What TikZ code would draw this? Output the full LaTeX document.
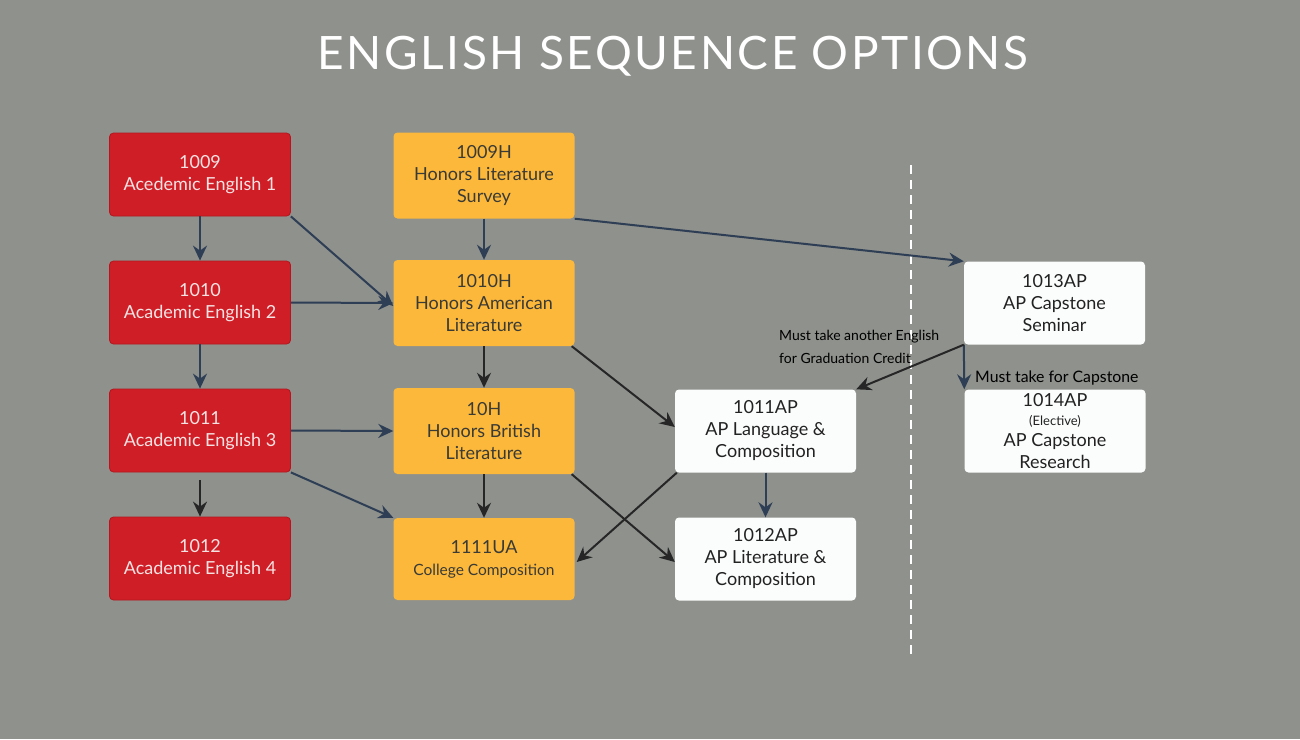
\documentclass[tikz,border=0pt]{standalone}
\usepackage{fontspec}
\setmainfont{Lato}
\newfontfamily\titlefont[LetterSpace=5.5]{Lato}
\usetikzlibrary{arrows.meta}
\definecolor{bg}{HTML}{8E918C}
\definecolor{redbox}{HTML}{D01E27}
\definecolor{redborder}{HTML}{B3161E}
\definecolor{redtext}{HTML}{F4E3E3}
\definecolor{orangebox}{HTML}{FBB83A}
\definecolor{orangetext}{HTML}{3A3A36}
\definecolor{whitebox}{HTML}{FBFCFC}
\definecolor{whitetext}{HTML}{222222}
\definecolor{slate}{HTML}{2E3E55}
\definecolor{darkarrow}{HTML}{262626}
\tikzset{
  box/.style={rounded corners=4pt, minimum width=181pt, minimum height=83pt, align=center, font=\fontsize{18}{22}\selectfont, inner sep=0pt},
  redcourse/.style={box, fill=redbox, draw=redborder, line width=0.8pt, text=redtext},
  orangecourse/.style={box, fill=orangebox, text=orangetext, minimum height=86pt},
  whitecourse/.style={box, fill=whitebox, text=whitetext},
  slatearrow/.style={draw=slate, line width=2pt, -{Stealth[length=15pt,width=14pt,inset=5pt]}},
  darkarrowstyle/.style={draw=darkarrow, line width=2pt, -{Stealth[length=15pt,width=14pt,inset=5pt]}},
  note/.style={font=\fontsize{14}{23}\selectfont, text=black, align=left, inner sep=0pt}
}
\begin{document}
\begin{tikzpicture}[x=1pt,y=-1pt]
\fill[bg] (0,0) rectangle (1300,739);
\useasboundingbox (0,0) rectangle (1300,739);
\node[text=white, font=\titlefont\fontsize{46}{50}\selectfont, inner sep=0pt] (title) at (673,56) {ENGLISH  SEQUENCE  OPTIONS};

\node[redcourse] (a1) at (200,174.5) {1009\\Acedemic English 1};
\node[redcourse] (a2) at (200,302.5) {1010\\Academic English 2};
\node[redcourse] (a3) at (200,430.5) {1011\\Academic English 3};
\node[redcourse] (a4) at (200,558.5) {1012\\Academic English 4};

\node[orangecourse] (h1) at (484,175.5) {1009H\\Honors Literature\\Survey};
\node[orangecourse] (h2) at (484,303) {1010H\\Honors American\\Literature};
\node[orangecourse] (h3) at (484,431) {10H\\Honors British\\Literature};
\node[orangecourse, minimum height=82pt] (ua) at (484,559) {1111UA\\{\fontsize{15.5}{20}\selectfont College Composition}};

\node[whitecourse] (lang) at (765.5,431) {1011AP\\AP Language \&\\Composition};
\node[whitecourse] (lit) at (765.5,559) {1012AP\\AP Literature \&\\Composition};
\node[whitecourse] (sem) at (1054.5,303) {1013AP\\AP Capstone\\Seminar};
\node[whitecourse] (res) at (1055,431) {1014AP\\[-3pt]{\fontsize{13}{16}\selectfont (Elective)}\\[-1pt]AP Capstone\\Research};

\coordinate (dtop) at (911,165);
\coordinate (dbot) at (911,655);
\draw[white, line width=1.5pt, dash pattern=on 9pt off 6pt] (dtop) -- (dbot);

\node[note, anchor=north west] (n1) at (779,330) {Must take another English\\for Graduation Credit};
\node[note, font=\fontsize{15.8}{18}\selectfont, anchor=west] (n2) at (975,378) {Must take for Capstone};

\draw[slatearrow] (a1.south) -- (a2.north);
\draw[slatearrow] (a2.south) -- (a3.north);
\draw[darkarrowstyle] ([yshift=-8pt]a3.south) -- (a4.north);
\draw[slatearrow] (a1.south east) -- ([yshift=-3pt]h2.west);
\draw[slatearrow] (a2.east) -- (h2.west);
\draw[slatearrow] (a3.east) -- (h3.west);
\draw[slatearrow] (a3.south east) -- (ua.north west);
\draw[slatearrow] (h1.south) -- (h2.north);
\draw[slatearrow] (h1.south east) -- (sem.north west);
\draw[darkarrowstyle] (h2.south) -- (h3.north);
\draw[darkarrowstyle] (h3.south) -- (ua.north);
\draw[darkarrowstyle] ([xshift=-3pt]h2.south east) -- ([yshift=4pt]lang.west);
\draw[darkarrowstyle] ([xshift=-3pt]h3.south east) -- ([yshift=-3pt]lit.west);
\draw[darkarrowstyle] ([xshift=2pt]lang.south west) -- ([xshift=2pt,yshift=-3pt]ua.east);
\draw[slatearrow] (lang.south) -- (lit.north);
\draw[slatearrow] (sem.south west) -- (res.north west);
\draw[darkarrowstyle] (sem.south west) -- (lang.north east);
\end{tikzpicture}
\end{document}
